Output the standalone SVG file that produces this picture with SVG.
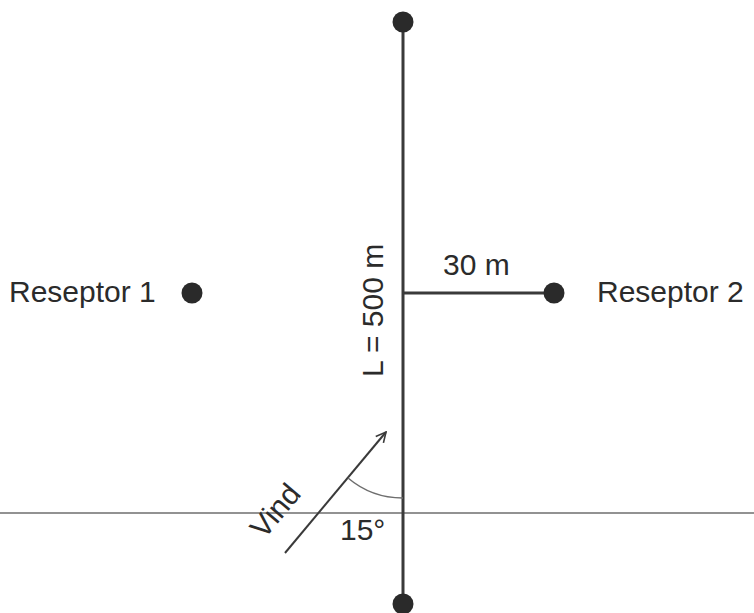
<svg xmlns="http://www.w3.org/2000/svg" width="754" height="613" viewBox="0 0 754 613">
<style>
text{font-family:"Liberation Sans",Arial,sans-serif;font-size:30px;fill:#2b2b2b}
.main{stroke:#3a3a3a;stroke-width:3;fill:none}
.thin{stroke:#6e6e6e;stroke-width:1.5;fill:none}
.dot{fill:#2a2a2a}
</style>
<defs>
<marker id="arr" viewBox="0 0 12 12" refX="11" refY="6" markerWidth="12" markerHeight="12" markerUnits="userSpaceOnUse" orient="auto">
<path d="M1,1 L11,6 L1,11" fill="none" stroke="#3a3a3a" stroke-width="1.6"/>
</marker>
</defs>
<rect width="754" height="613" fill="#ffffff"/>
<g id="connectors">
<line class="thin" x1="0" y1="513" x2="754" y2="513"/>
<line class="main" x1="403" y1="22" x2="403" y2="604"/>
<line class="main" x1="403" y1="293" x2="554" y2="293"/>
<line x1="285" y1="553" x2="386" y2="432" stroke="#3a3a3a" stroke-width="2" marker-end="url(#arr)"/>
<path class="thin" d="M348,478 A85,85 0 0 0 403,498" stroke="#444"/>
</g>
<g id="top-end"><circle class="dot" cx="403" cy="22" r="10.5"/></g>
<g id="bottom-end"><circle class="dot" cx="403" cy="604" r="10.5"/></g>
<g id="receptor1"><circle class="dot" cx="192" cy="293" r="10.5"/><text x="9" y="302">Reseptor 1</text></g>
<g id="receptor2"><circle class="dot" cx="554" cy="293" r="10.5"/><text x="597" y="302">Reseptor 2</text></g>
<g id="labels">
<text x="443" y="275">30 m</text>
<text transform="translate(383,377) rotate(-90)">L = 500 m</text>
<text x="340" y="540">15°</text>
<text transform="translate(264,540) rotate(-50)">Vind</text>
</g>
</svg>
